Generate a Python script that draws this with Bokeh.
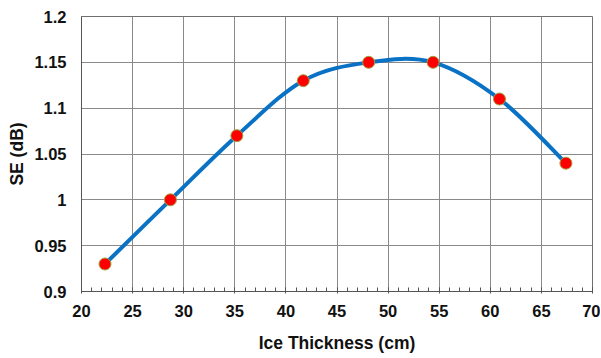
from bokeh.plotting import figure
from bokeh.models import FixedTicker, Range1d
from bokeh.embed import file_html
from bokeh.resources import INLINE

# data
ice_thickness = [22.3, 28.7, 35.2, 41.7, 48.1, 54.4, 60.9, 67.4]
se_db = [0.93, 1.00, 1.07, 1.13, 1.15, 1.15, 1.11, 1.04]
x_ticks = [20, 25, 30, 35, 40, 45, 50, 55, 60, 65, 70]
y_ticks = [0.9, 0.95, 1.0, 1.05, 1.1, 1.15, 1.2]
y_tick_labels = ["0.9", "0.95", "1", "1.05", "1.1", "1.15", "1.2"]

FONT = "Liberation Sans"

p = figure(frame_width=511, frame_height=275, output_backend="svg", toolbar_location=None,
           x_range=Range1d(20, 70), y_range=Range1d(0.9, 1.2),
           min_border_left=81, min_border_right=8, min_border_top=16, min_border_bottom=60)
p.background_fill_color = "white"
p.border_fill_color = "white"
p.outline_line_color = "#6f6f6f"
p.outline_line_width = 1

# Axes
p.xaxis.ticker = FixedTicker(ticks=x_ticks, minor_ticks=list(range(20, 71)))
p.yaxis.ticker = FixedTicker(ticks=y_ticks)
p.yaxis.major_label_overrides = {t: l for t, l in zip(y_ticks, y_tick_labels)}
p.xaxis.axis_label = "Ice Thickness (cm)"
p.yaxis.axis_label = "SE (dB)"
for ax in (p.xaxis, p.yaxis):
    ax.axis_label_text_font = FONT
    ax.axis_label_text_font_style = "bold"
    ax.axis_label_text_font_size = "17.5px"
    ax.axis_label_text_color = "#111111"
    ax.major_label_text_font = FONT
    ax.major_label_text_font_style = "bold"
    ax.major_label_text_font_size = "16.5px"
    ax.major_label_text_color = "#111111"
    ax.axis_line_color = "#555555"
    ax.axis_line_width = 1
    ax.major_tick_line_color = "#555555"
    ax.minor_tick_line_color = "#555555"
p.xaxis.major_tick_in = 4
p.xaxis.major_tick_out = 2
p.xaxis.minor_tick_in = 4
p.xaxis.minor_tick_out = 0
p.xaxis.major_label_standoff = 11
p.xaxis.axis_label_standoff = 13
p.yaxis.major_tick_in = 0
p.yaxis.major_tick_out = 0
p.yaxis.minor_tick_line_color = None
p.yaxis.major_label_standoff = 15
p.yaxis.axis_label_standoff = 4

p.xgrid.grid_line_color = "#8a8a8a"
p.ygrid.grid_line_color = "#8a8a8a"
p.xgrid.grid_line_width = 1
p.ygrid.grid_line_width = 1

# Smoothed line (Catmull-Rom style Bezier segments through the data)
n = len(ice_thickness)
x0s, y0s, x1s, y1s, cx0s, cy0s, cx1s, cy1s = [], [], [], [], [], [], [], []
for i in range(n - 1):
    xm, ym = (ice_thickness[i - 1], se_db[i - 1]) if i > 0 else (ice_thickness[i], se_db[i])
    xa, ya = ice_thickness[i], se_db[i]
    xb, yb = ice_thickness[i + 1], se_db[i + 1]
    xp, yp = (ice_thickness[i + 2], se_db[i + 2]) if i + 2 < n else (xb, yb)
    x0s.append(xa); y0s.append(ya); x1s.append(xb); y1s.append(yb)
    cx0s.append(xa + (xb - xm) / 6); cy0s.append(ya + (yb - ym) / 6)
    cx1s.append(xb - (xp - xa) / 6); cy1s.append(yb - (yp - ya) / 6)
p.bezier(x0=x0s, y0=y0s, x1=x1s, y1=y1s, cx0=cx0s, cy0=cy0s, cx1=cx1s, cy1=cy1s,
         line_color="#0a72c4", line_width=4, line_cap="round")

p.scatter(ice_thickness, se_db, size=12, fill_color="#ff0000",
          line_color="#a0a040", line_width=1)

open("out.html", "w").write(file_html(p, INLINE))
